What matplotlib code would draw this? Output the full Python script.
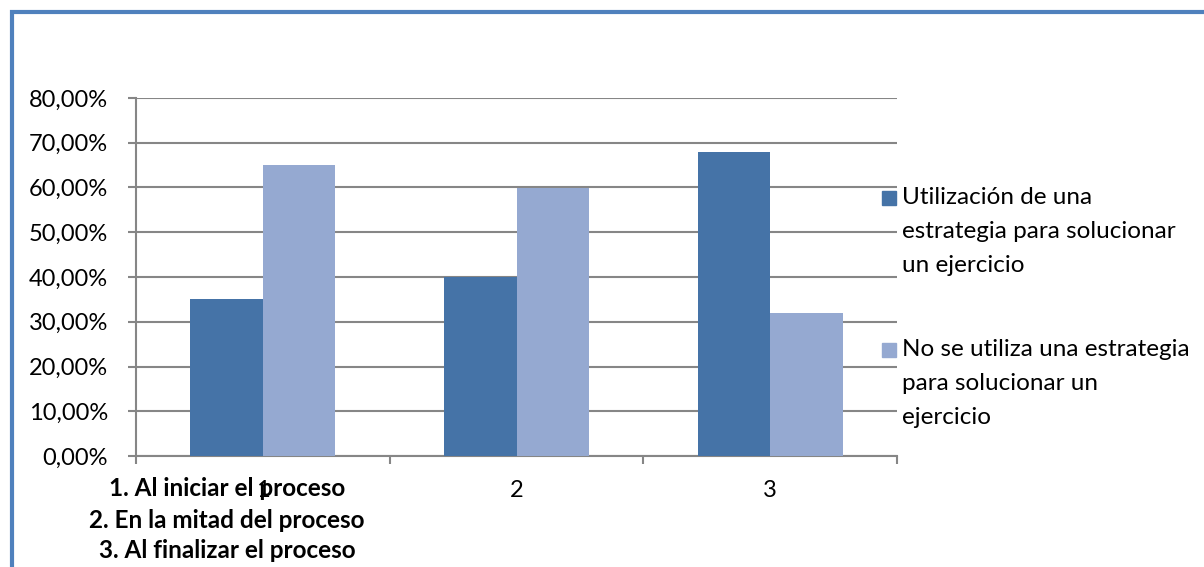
import numpy as np
import matplotlib.pyplot as plt
from matplotlib.patches import Rectangle
from matplotlib.ticker import FuncFormatter

plt.rcParams['font.family'] = ['Lato', 'DejaVu Sans']

categories = ['1', '2', '3']
serie_usa = [0.35, 0.40, 0.68]
serie_no_usa = [0.65, 0.60, 0.32]
nombres = [['Utilización de una', 'estrategia para solucionar', 'un ejercicio'],
           ['No se utiliza una estrategia', 'para solucionar un', 'ejercicio']]
notas = ['1. Al iniciar el proceso',
         '2. En la mitad del proceso',
         '3. Al finalizar el proceso']

color_usa = '#4573a7'
color_no = '#95a9d1'
gris = '#868686'
W, H = 1204, 567

fig = plt.figure(figsize=(W / 100, H / 100), dpi=100)
ax = fig.add_axes([136 / W, 1 - 456 / H, (897 - 136) / W, (456 - 98) / H])

x = np.arange(len(categories))
ancho = 1 / 3.5
ax.bar(x - ancho / 2, serie_usa, ancho, color=color_usa, zorder=3)
ax.bar(x + ancho / 2, serie_no_usa, ancho, color=color_no, zorder=3)

ax.set_xlim(-0.5, len(categories) - 0.5)
ax.set_ylim(0, 0.8)
ax.set_yticks(np.arange(0, 0.81, 0.1))
ax.yaxis.set_major_formatter(FuncFormatter(lambda v, p: f'{v * 100:.2f}%'.replace('.', ',')))
ax.set_xticks(x)
ax.set_xticklabels(categories)
ax.set_xticks(np.arange(-0.5, len(categories)), minor=True)
ax.tick_params(axis='x', which='major', length=0, pad=17, labelsize=17)
ax.tick_params(axis='x', which='minor', length=6, color=gris, width=1.5)
ax.tick_params(axis='y', length=6, color=gris, width=1.5, labelsize=17, pad=14)

ax.grid(axis='y', color=gris, lw=1.5, zorder=0)
for s in ['top', 'right']:
    ax.spines[s].set_visible(False)
for s in ['left', 'bottom']:
    ax.spines[s].set_color(gris)
    ax.spines[s].set_linewidth(1.5)

# leyenda a la derecha: cuadro de color alineado con la primera línea
for colores, lineas, y0 in [(color_usa, nombres[0], 198), (color_no, nombres[1], 350)]:
    fig.add_artist(Rectangle((882 / W, 1 - (y0 + 7) / H), 14 / W, 14 / H,
                             transform=fig.transFigure, color=colores))
    for j, linea in enumerate(lineas):
        fig.text(902 / W, 1 - (y0 + 34 * j) / H, linea, ha='left', va='center', fontsize=17.5)

for i, nota in enumerate(notas):
    fig.text(227 / W, 1 - (489 + 31 * i) / H, nota, ha='center', va='center',
             fontsize=17.5, fontweight='bold')

# marco azul
fig.add_artist(Rectangle((12 / W, -0.1), 1.2, 1.1 - 11.5 / H, transform=fig.transFigure,
                         fill=False, edgecolor='#4f81bd', lw=3))

fig.savefig('out.png', dpi=100)
